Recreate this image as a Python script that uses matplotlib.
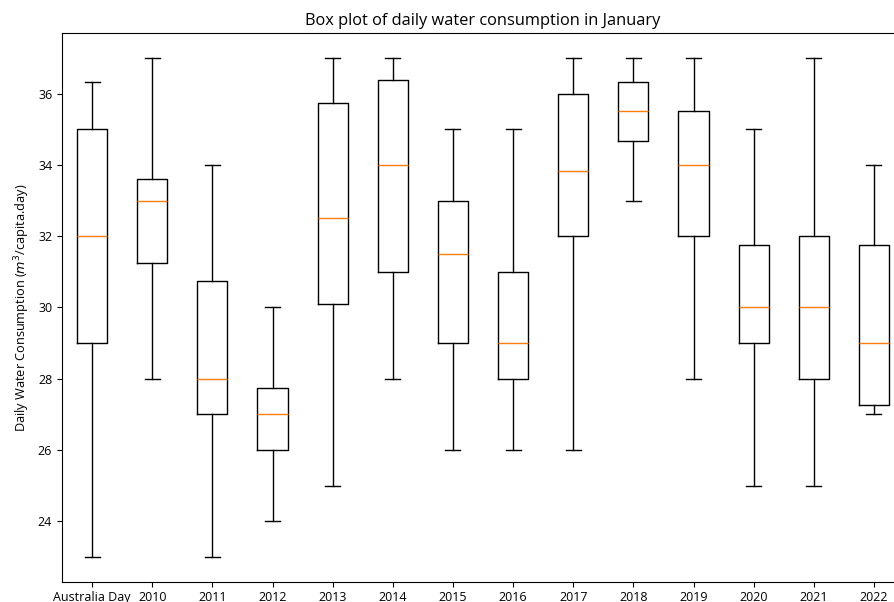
import matplotlib.pyplot as plt

# Five-number summaries of daily water consumption per January
labels = ["Australia Day", "2010", "2011", "2012", "2013", "2014", "2015",
          "2016", "2017", "2018", "2019", "2020", "2021", "2022"]
whis_low = [23, 28, 23, 24, 25, 28, 26, 26, 26, 33, 28, 25, 25, 27]
q1 = [29, 31.25, 27, 26, 30.1, 31, 29, 28, 32, 34.67, 32, 29, 28, 27.25]
median = [32, 33, 28, 27, 32.5, 34, 31.5, 29, 33.83, 35.5, 34, 30, 30, 29]
q3 = [35, 33.6, 30.75, 27.75, 35.75, 36.38, 33, 31, 36, 36.33, 35.5, 31.75, 32, 31.75]
whis_high = [36.33, 37, 34, 30, 37, 37, 35, 35, 37, 37, 37, 35, 37, 34]

stats = []
for i, lab in enumerate(labels):
    stats.append({
        "label": lab,
        "whislo": whis_low[i],
        "q1": q1[i],
        "med": median[i],
        "q3": q3[i],
        "whishi": whis_high[i],
        "fliers": [],
    })

plt.rcParams["font.family"] = ["Open Sans", "DejaVu Sans"]
plt.rcParams["mathtext.fontset"] = "dejavusans"

fig = plt.figure(figsize=(8.95, 6.02), dpi=100)
ax = fig.add_axes([0.0693, 0.0337, 0.9408, 0.9113])
ax.bxp(stats, showfliers=False)

ax.set_title("Box plot of daily water consumption in January", fontsize=11.8)
ax.set_ylabel("Daily Water Consumption ($m^3$/capita.day)", fontsize=9.2)
ax.tick_params(labelsize=9)

fig.savefig("out.png", dpi=100)
